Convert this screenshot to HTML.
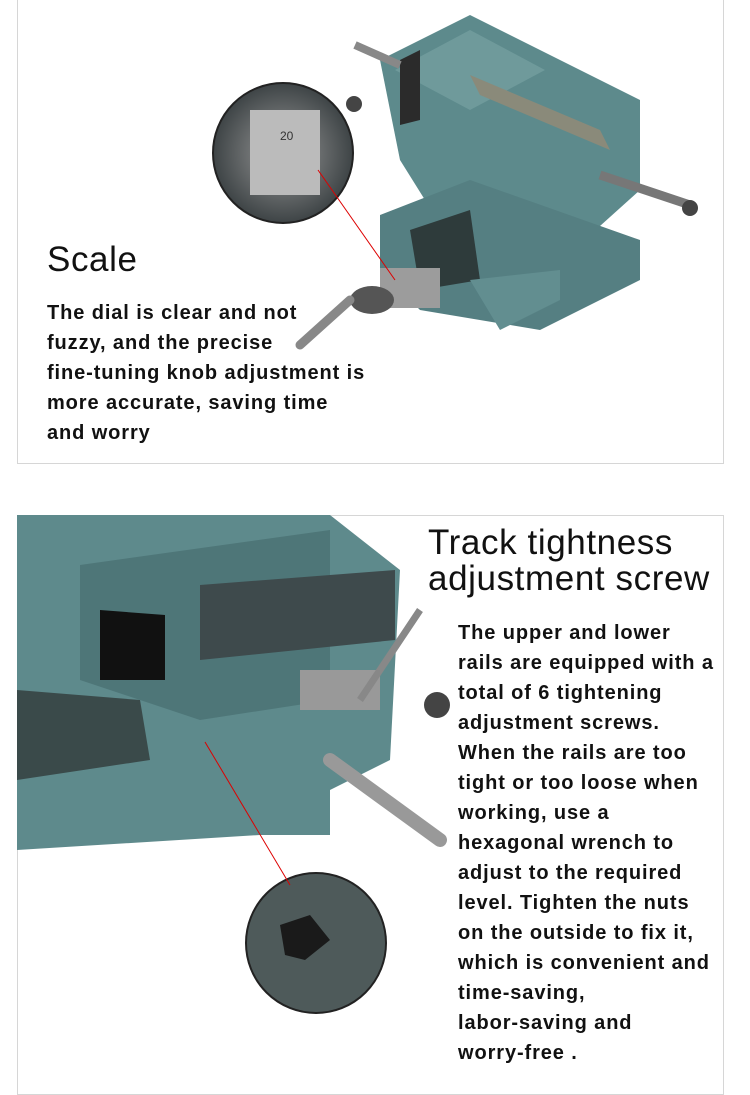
<!DOCTYPE html>
<html><head><meta charset="utf-8"><style>
body{margin:0;width:750px;height:1088px;background:#fff;position:relative;overflow:hidden;font-family:"Liberation Sans",Arial,sans-serif;color:#111}
.box{position:absolute;left:17px;width:707px;border:1px solid #d6d6d6;box-sizing:border-box}
.t{position:absolute;font-size:35px;line-height:36px;letter-spacing:0.6px}
.p{position:absolute;font-size:20px;line-height:30px;font-weight:bold;letter-spacing:0.9px;white-space:nowrap}
svg{position:absolute;left:0;top:0}
</style></head><body>
<div class="box" style="top:-2px;height:466px"></div>
<div class="box" style="top:515px;height:580px"></div>
<svg width="750" height="1088">
<defs>
<radialGradient id="g1" cx="50%" cy="50%" r="50%"><stop offset="0" stop-color="#9a9a9a"/><stop offset="1" stop-color="#3e4446"/></radialGradient>
</defs>
<polygon points="380,60 470,15 560,60 640,100 640,190 590,235 560,250 450,240 400,160" fill="#5d8a8c"/>
<polygon points="395,70 470,30 545,70 470,110" fill="#6f9a9b"/>
<polygon points="400,60 420,50 420,120 400,125" fill="#2b2b2b"/>
<polygon points="470,75 600,130 610,150 480,95" fill="#8a8a7a"/>
<polygon points="380,215 470,180 640,240 640,280 540,330 420,310 380,270" fill="#557f82"/>
<polygon points="410,230 470,210 480,280 420,290" fill="#2e3b3b"/>
<polygon points="470,280 560,270 560,300 500,330" fill="#628e90"/>
<rect x="380" y="268" width="60" height="40" fill="#9c9c9c"/>
<ellipse cx="372" cy="300" rx="22" ry="14" fill="#555"/>
<path d="M300,345 L350,300" stroke="#888" stroke-width="9" stroke-linecap="round"/>
<path d="M600,175 L690,205" stroke="#777" stroke-width="9"/>
<circle cx="690" cy="208" r="8" fill="#444"/>
<path d="M355,45 L400,65" stroke="#888" stroke-width="8"/>
<circle cx="354" cy="104" r="8" fill="#444"/>
<circle cx="283" cy="153" r="70" fill="url(#g1)" stroke="#222" stroke-width="2"/>
<rect x="250" y="110" width="70" height="85" fill="#bbb"/>
<text x="280" y="140" font-size="12" fill="#333">20</text>
<line x1="318" y1="170" x2="395" y2="280" stroke="#d00" stroke-width="1"/>
<polygon points="17,515 330,515 400,570 390,760 330,790 330,835 260,835 17,850" fill="#5e8a8c"/>
<polygon points="80,565 330,530 330,700 200,720 80,680" fill="#4e7678"/>
<polygon points="100,610 165,615 165,680 100,680" fill="#111"/>
<polygon points="200,585 395,570 395,640 200,660" fill="#3e4a4c"/>
<polygon points="17,690 140,700 150,760 17,780" fill="#3a4a4a"/>
<rect x="300" y="670" width="80" height="40" fill="#999"/>
<path d="M330,760 L440,840" stroke="#999" stroke-width="14" stroke-linecap="round"/>
<circle cx="437" cy="705" r="13" fill="#444"/>
<path d="M360,700 L420,610" stroke="#888" stroke-width="7"/>
<circle cx="316" cy="943" r="70" fill="#4e5a5a" stroke="#222" stroke-width="2"/>
<polygon points="280,925 310,915 330,940 305,960 285,955" fill="#1a1a1a"/>
<line x1="205" y1="742" x2="290" y2="885" stroke="#d00" stroke-width="1"/>
</svg>
<div class="t" style="left:47px;top:242px">Scale</div>
<div class="p" style="left:47px;top:298px">The dial is clear and not<br>fuzzy, and the precise<br>fine-tuning knob adjustment is<br>more accurate, saving time<br>and worry</div>
<div class="t" style="left:428px;top:525px">Track tightness<br>adjustment screw</div>
<div class="p" style="left:458px;top:618px">The upper and lower<br>rails are equipped with a<br>total of 6 tightening<br>adjustment screws.<br>When the rails are too<br>tight or too loose when<br>working, use a<br>hexagonal wrench to<br>adjust to the required<br>level. Tighten the nuts<br>on the outside to fix it,<br>which is convenient and<br>time-saving,<br>labor-saving and<br>worry-free .</div>
</body></html>
